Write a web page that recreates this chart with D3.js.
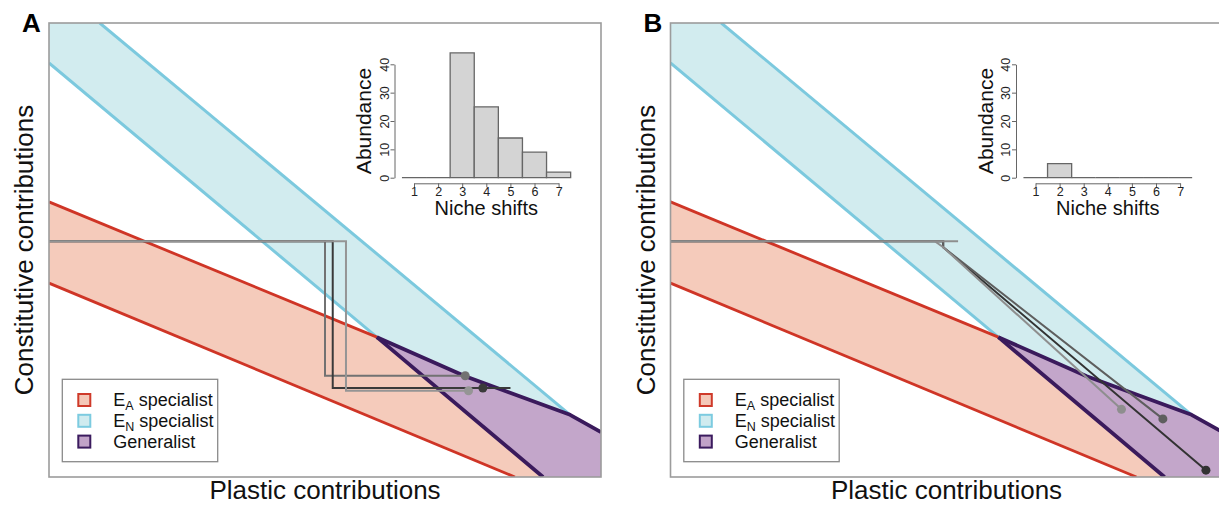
<!DOCTYPE html>
<html>
<head>
<meta charset="utf-8">
<script src="https://cdn.jsdelivr.net/npm/d3@7"></script>
<style>
  body { margin: 0; background: #fff; }
  text { font-family: "Liberation Sans", Arial, Helvetica, sans-serif; }
</style>
</head>
<body>
<div id="chart"></div>
<script>
// boundaries of the niche regions, in plot units (0-100 on both axes)
var enUpper = [[9.2, 100], [94.4, 13.7]]
var enLower = [[0, 91.2], [59.4, 30.8]]
var eaUpper = [[0, 60.6], [59.4, 30.8]]
var eaLower = [[0, 42.7], [84.4, 0]]
var genUpper = [[59.4, 30.8], [75.4, 22.2], [94.4, 13.7], [100, 9.9]]
var genLower = [[59.4, 30.8], [89.5, 0]]

// filled regions
var enRegion = [[0, 100], [9.2, 100], [94.4, 13.7], [75.4, 22.2], [59.4, 30.8], [0, 91.2]]
var eaRegion = [[0, 60.6], [59.4, 30.8], [89.5, 0], [84.4, 0], [0, 42.7]]
var genRegion = [[59.4, 30.8], [75.4, 22.2], [94.4, 13.7], [100, 9.9], [100, 0], [89.5, 0]]

// evolutionary trajectories (drawn in this order)
var trajA = [
  { color: '#727272', pts: [[0, 51.9], [50.0, 51.9], [50.0, 22.3], [75.4, 22.3]], dot: [75.4, 22.3] },
  { color: '#3a3a3a', pts: [[0, 51.9], [51.4, 51.9], [51.4, 19.6], [83.6, 19.6]], dot: [78.6, 19.6] },
  { color: '#959595', pts: [[0, 51.9], [53.8, 51.9], [53.8, 19.0], [76.0, 19.0]], dot: [76.0, 19.0] }
]
var trajB = [
  { color: '#333333', pts: [[0, 51.9], [49.4, 51.9], [49.4, 50.6], [97.0, 1.5]], dot: [97.0, 1.5] },
  { color: '#5e5e5e', pts: [[0, 51.9], [49.4, 51.9], [49.4, 50.6], [89.2, 12.8]], dot: [89.2, 12.8] },
  { color: '#8e8e8e', pts: [[0, 51.9], [52.1, 51.9], [47.9, 51.9], [49.4, 50.6], [81.7, 14.9]], dot: [81.7, 14.9] }
]

// inset histograms
var shiftBins = [1, 2, 3, 4, 5, 6, 7]
var countsA = [0, 0, 44, 25, 14, 9, 2]
var countsB = [0, 5, 0, 0, 0, 0, 0]
var abundanceTicks = [0, 10, 20, 30, 40]

var legendItems = [
  { main: 'E', sub: 'A', rest: ' specialist', stroke: '#cf3a2a', fill: '#f4c8b8' },
  { main: 'E', sub: 'N', rest: ' specialist', stroke: '#7ccbe0', fill: '#d0ebef' },
  { main: 'Generalist', sub: '', rest: '', stroke: '#3b1b5e', fill: '#c1a3c8' }
]

var width = 1219, height = 506
var pw = 552, ph = 454

var x = d3.scaleLinear().domain([0, 100]).range([0, pw])
var y = d3.scaleLinear().domain([0, 100]).range([ph, 0])

var hx = d3.scaleLinear().domain([1, 7]).range([365, 509.6])
var hy = d3.scaleLinear().domain([0, 40]).range([154.7, 41.3])

var line = d3.line().x(function(d) { return x(d[0]) }).y(function(d) { return y(d[1]) })

var svg = d3.select('#chart').append('svg')
    .attr('width', width)
    .attr('height', height)

svg.append('defs').append('clipPath').attr('id', 'plotclip')
  .append('rect').attr('width', pw).attr('height', ph)

function drawPanel(left, letter, counts, traj) {
  var g = svg.append('g').attr('transform', 'translate(' + left + ',23)')
  var plot = g.append('g').attr('clip-path', 'url(#plotclip)')

  plot.append('path').attr('d', line(enRegion) + 'Z').attr('fill', '#d2ecef')
  plot.append('path').attr('d', line(eaRegion) + 'Z').attr('fill', '#f5cbbb')
  plot.append('path').attr('d', line(genRegion) + 'Z').attr('fill', '#c3a6ca')

  plot.append('path').attr('d', line(enUpper)).attr('fill', 'none').attr('stroke', '#7cc9de').attr('stroke-width', 3)
  plot.append('path').attr('d', line(enLower)).attr('fill', 'none').attr('stroke', '#7cc9de').attr('stroke-width', 3)
  plot.append('path').attr('d', line(eaUpper)).attr('fill', 'none').attr('stroke', '#cf3526').attr('stroke-width', 2.8)
  plot.append('path').attr('d', line(eaLower)).attr('fill', 'none').attr('stroke', '#cf3526').attr('stroke-width', 2.8)
  plot.append('path').attr('d', line(genUpper)).attr('fill', 'none').attr('stroke', '#3a1a5c').attr('stroke-width', 3.8).attr('stroke-linejoin', 'round')
  plot.append('path').attr('d', line(genLower)).attr('fill', 'none').attr('stroke', '#3a1a5c').attr('stroke-width', 3.8)

  plot.selectAll('path.traj').data(traj).enter().append('path')
      .attr('class', 'traj')
      .attr('d', function(d) { return line(d.pts) })
      .attr('fill', 'none')
      .attr('stroke', function(d) { return d.color })
      .attr('stroke-width', 2)
  plot.selectAll('circle.dot').data(traj).enter().append('circle')
      .attr('class', 'dot')
      .attr('cx', function(d) { return x(d.dot[0]) })
      .attr('cy', function(d) { return y(d.dot[1]) })
      .attr('r', 4.5)
      .attr('fill', function(d) { return d.color })

  // frame
  g.append('rect').attr('width', pw).attr('height', ph)
    .attr('fill', 'none').attr('stroke', '#9c9c9c').attr('stroke-width', 1.6)

  // inset histogram
  var bars = shiftBins.map(function(b, i) { return { bin: b, count: counts[i] } })
  g.selectAll('path.bar').data(bars).enter().append('path')
      .attr('class', 'bar')
      .attr('d', function(d) {
        var p = d3.path()
        p.moveTo(hx(d.bin - 0.5), hy(0))
        p.lineTo(hx(d.bin - 0.5), hy(d.count))
        p.lineTo(hx(d.bin + 0.5), hy(d.count))
        p.lineTo(hx(d.bin + 0.5), hy(0))
        p.closePath()
        return p.toString()
      })
      .attr('fill', '#d4d4d4')
      .attr('stroke', '#666')
      .attr('stroke-width', 1.3)

  var ya = g.append('g').attr('transform', 'translate(345.5,0)')
      .call(d3.axisLeft(hy).tickValues(abundanceTicks).tickSize(4).tickSizeOuter(0).tickFormat(d3.format('d')))
  ya.select('.domain').attr('stroke', '#666')
  ya.selectAll('line').attr('stroke', '#666')
  ya.selectAll('text')
      .attr('transform', 'rotate(-90)')
      .attr('x', 0).attr('y', -6).attr('dy', 0)
      .attr('text-anchor', 'middle')
      .attr('font-size', 12.5).attr('fill', '#222')
      .attr('font-family', '"Liberation Sans", Arial, sans-serif')

  var xa = g.append('g').attr('transform', 'translate(0,160.3)')
      .call(d3.axisBottom(hx).tickValues(shiftBins).tickSize(4).tickSizeOuter(0).tickFormat(d3.format('d')))
  xa.select('.domain').attr('stroke', '#666')
  xa.selectAll('line').attr('stroke', '#666')
  xa.selectAll('text').attr('y', 4).attr('dy', '0.71em')
      .attr('font-size', 12.5).attr('fill', '#222')
      .attr('font-family', '"Liberation Sans", Arial, sans-serif')

  g.append('text').attr('x', hx(4)).attr('y', 192)
      .attr('text-anchor', 'middle').attr('font-size', 20).attr('fill', '#111')
      .text('Niche shifts')
  g.append('text').attr('transform', 'translate(322,' + hy(20) + ') rotate(-90)')
      .attr('text-anchor', 'middle').attr('font-size', 21).attr('fill', '#111')
      .text('Abundance')

  // legend
  var leg = g.append('g').attr('transform', 'translate(13.3,356.3)')
  leg.append('rect').attr('width', 155.4).attr('height', 82.4)
      .attr('fill', '#fff').attr('stroke', '#8a8a8a').attr('stroke-width', 1.3)
  var rows = leg.selectAll('g.row').data(legendItems).enter().append('g')
      .attr('class', 'row')
      .attr('transform', function(d, i) { return 'translate(0,' + (20.7 + i * 20.8) + ')' })
  rows.append('rect').attr('x', 16).attr('y', -6).attr('width', 12).attr('height', 12)
      .attr('fill', function(d) { return d.fill })
      .attr('stroke', function(d) { return d.stroke })
      .attr('stroke-width', 2)
  var t = rows.append('text').attr('x', 51).attr('dy', '0.36em').attr('font-size', 18).attr('fill', '#111')
  t.append('tspan').text(function(d) { return d.main })
  t.append('tspan').attr('font-size', 12.5).attr('dy', 4).text(function(d) { return d.sub })
  t.append('tspan').attr('dy', function(d) { return d.sub ? -4 : 0 }).text(function(d) { return d.rest })

  // axis titles and panel letter
  g.append('text').attr('x', pw / 2).attr('y', 476)
      .attr('text-anchor', 'middle').attr('font-size', 26).attr('fill', '#111')
      .text('Plastic contributions')
  g.append('text').attr('transform', 'translate(-16,' + ph / 2 + ') rotate(-90)')
      .attr('text-anchor', 'middle').attr('font-size', 26).attr('fill', '#111')
      .text('Constitutive contributions')
  g.append('text').attr('x', -27).attr('y', 9)
      .attr('font-size', 26).attr('font-weight', 'bold').attr('fill', '#000')
      .text(letter)
}

drawPanel(49, 'A', countsA, trajA)
drawPanel(670.5, 'B', countsB, trajB)
</script>
</body>
</html>
